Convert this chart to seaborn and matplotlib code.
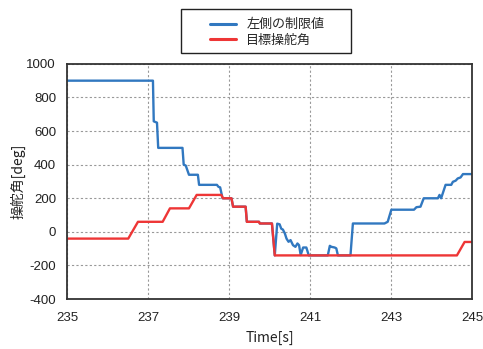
import matplotlib
matplotlib.use("Agg")
import matplotlib.pyplot as plt
from matplotlib.patches import Rectangle
import seaborn as sns
import pandas as pd

# Left-side limit value (blue) and target steering angle (red)
limit_time = [235.0, 237.12, 237.14, 237.22, 237.25, 237.85, 237.88, 237.93, 238.01,
              238.23, 238.26, 238.70, 238.74, 238.78, 238.84, 239.06, 239.10, 239.41,
              239.44, 239.74, 239.76, 240.06, 240.13, 240.19, 240.25, 240.29, 240.33,
              240.38, 240.42, 240.47, 240.52, 240.58, 240.64, 240.69, 240.73, 240.77,
              240.83, 240.91, 240.97, 241.44, 241.49, 241.53, 241.61, 241.65, 241.69,
              242.00, 242.06, 242.84, 242.92, 243.01, 243.57, 243.63, 243.73, 243.81,
              244.16, 244.20, 244.24, 244.35, 244.49, 244.53, 244.60, 244.65, 244.72,
              244.78, 245.0]
limit_value = [900, 900, 658, 650, 500, 500, 400, 395, 340,
               340, 280, 280, 268, 265, 200, 200, 150, 150,
               60, 60, 50, 50, -140, 49, 45, 19, 14,
               -10, -40, -59, -49, -79, -89, -69, -79, -138,
               -93, -93, -140, -140, -83, -89, -93, -98, -140,
               -140, 50, 50, 60, 132, 132, 147, 150, 200,
               200, 220, 200, 280, 280, 298, 305, 318, 324,
               344, 344]

target_time = [235.0, 236.51, 236.75, 237.36, 237.54, 238.01, 238.20, 238.81, 238.85,
               239.06, 239.10, 239.41, 239.44, 239.74, 239.76, 240.06, 240.13, 244.63,
               244.82, 245.0]
target_value = [-40, -40, 60, 60, 140, 140, 220, 220, 200,
                200, 150, 150, 60, 60, 50, 50, -140, -140,
                -60, -60]

series_names = ["左側の制限値", "目標操舵角"]
series_colors = ["#3178C0", "#EE3636"]
x_ticks = [235, 237, 239, 241, 243, 245]
y_ticks = [-400, -200, 0, 200, 400, 600, 800, 1000]

df = pd.concat([
    pd.DataFrame({"time": limit_time, "value": limit_value, "series": series_names[0]}),
    pd.DataFrame({"time": target_time, "value": target_value, "series": series_names[1]}),
], ignore_index=True)

sns.set_style("white")
plt.rcParams["font.family"] = ["Noto Sans CJK JP", "DejaVu Sans"]

fig = plt.figure(figsize=(4.83, 3.49), dpi=100)
ax = fig.add_axes([0.139, 0.143, 0.838, 0.674])

sns.lineplot(data=df, x="time", y="value", hue="series", hue_order=series_names,
             palette=series_colors, estimator=None, sort=False, linewidth=1.7,
             ax=ax, legend=True)

ax.set_xlim(235, 245)
ax.set_ylim(-400, 1000)
ax.set_xticks(x_ticks)
ax.set_yticks(y_ticks)
ax.set_xticklabels([str(t) for t in x_ticks], family="Liberation Sans", fontsize=9.5)
ax.set_yticklabels([str(t) for t in y_ticks], family="Liberation Sans", fontsize=9.5)
ax.tick_params(axis="x", length=0, pad=9, colors="#222222")
ax.tick_params(axis="y", length=0, pad=8, colors="#222222")
ax.grid(True, linestyle=(0, (2, 2)), color="#999999", linewidth=0.8)
for sp in ax.spines.values():
    sp.set_color("#333333")
    sp.set_linewidth(1.3)

ax.set_xlabel("Time[s]", fontsize=10, color="#222222", labelpad=5)
ax.set_ylabel("操舵角[deg]", fontsize=10, color="#222222", labelpad=1)

# Legend above the plot, with a plain rectangular frame around it
leg = ax.legend(loc="center", bbox_to_anchor=(0.553, 0.907), bbox_transform=fig.transFigure,
                frameon=False, fontsize=9.4, handlelength=2.0, handletextpad=0.8,
                borderpad=0.2, labelspacing=0.2)
for line in leg.get_lines():
    line.set_linewidth(2.2)
fig.add_artist(Rectangle((0.3747, 0.8481), 0.352, 0.126, transform=fig.transFigure,
                         fill=False, edgecolor="#222222", linewidth=1.0))

fig.savefig("out.png", dpi=100)
